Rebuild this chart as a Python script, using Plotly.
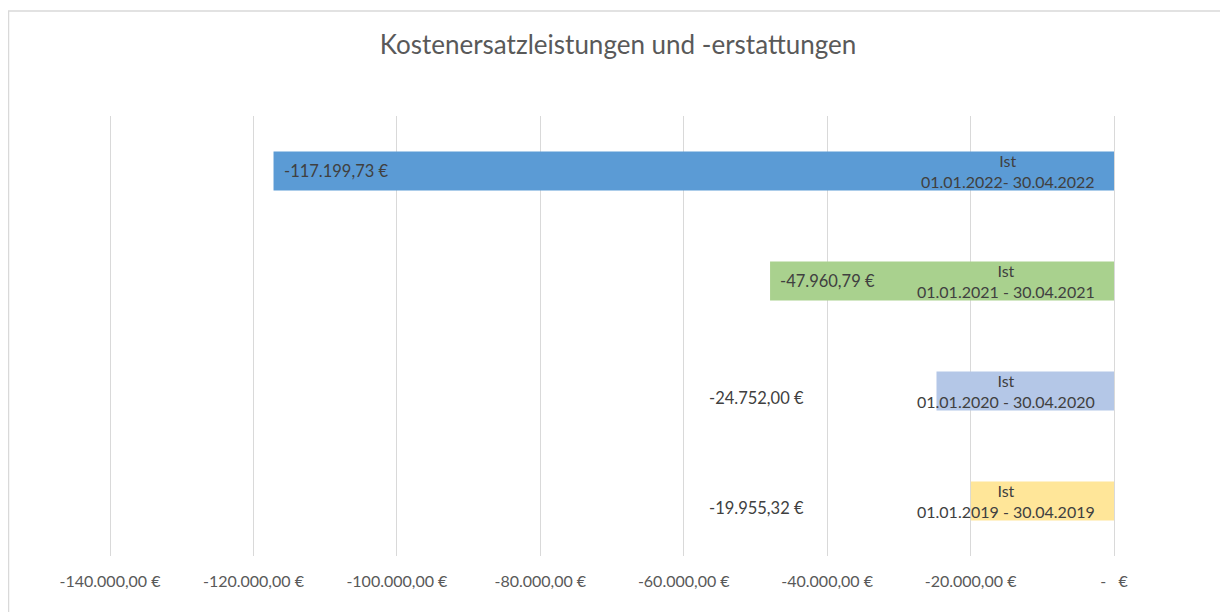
import plotly.graph_objects as go

categories = ["Ist<br>01.01.2022- 30.04.2022",
              "Ist<br>01.01.2021 - 30.04.2021",
              "Ist<br>01.01.2020 - 30.04.2020",
              "Ist<br>01.01.2019 - 30.04.2019"]
values = [-117199.73, -47960.79, -24752.00, -19955.32]
value_labels = ["-117.199,73 €", "-47.960,79 €", "-24.752,00 €", "-19.955,32 €"]
colors = ["#5B9BD5", "#A9D18E", "#B4C7E7", "#FFE699"]
tick_vals = [-140000, -120000, -100000, -80000, -60000, -40000, -20000, 0]
tick_text = ["-140.000,00 €", "-120.000,00 €", "-100.000,00 €", "-80.000,00 €",
             "-60.000,00 €", "-40.000,00 €", "-20.000,00 €", "-   €"]

FONT = "Lato"
ycats = [str(i) for i in range(len(categories))]

# page has an 8px body offset; figure laid out accordingly
W, H = 1220, 604
L, T, B = 100, 108, 56
PW = 1006
R = W - L - PW
PH = H - T - B

fig = go.Figure()
fig.add_trace(go.Bar(
    y=ycats, x=values, orientation="h",
    marker=dict(color=colors, line=dict(width=0)),
    width=0.355, hoverinfo="skip", showlegend=False,
))

annotations = []
for yc, cat in zip(ycats, categories):
    annotations.append(dict(
        x=0, y=yc, xref="x", yref="y", text=cat, showarrow=False,
        xanchor="right", yanchor="middle", xshift=-17, align="center",
        font=dict(family=FONT, size=16, color="#404040"),
    ))
outside_x = -43000  # fixed label column used by the original for short bars
for i, (yc, v, lab) in enumerate(zip(ycats, values, value_labels)):
    if i < 2:
        annotations.append(dict(
            x=v, y=yc, xref="x", yref="y", text=lab, showarrow=False,
            xanchor="left", yanchor="middle", xshift=8,
            font=dict(family=FONT, size=16.5, color="#404040"),
        ))
    else:
        annotations.append(dict(
            x=outside_x, y=yc, xref="x", yref="y", text=lab, showarrow=False,
            xanchor="right", yanchor="middle", yshift=-7,
            font=dict(family=FONT, size=16.5, color="#404040"),
        ))

fig.update_layout(
    width=W, height=H,
    margin=dict(l=L, r=R, t=T, b=B),
    paper_bgcolor="white", plot_bgcolor="white",
    title=dict(text="Kostenersatzleistungen und -erstattungen",
               x=0.5, xanchor="center", y=1 - 37 / H, yanchor="middle",
               font=dict(family=FONT, size=26, color="#595959")),
    xaxis=dict(range=[-140280, 0], tickvals=tick_vals, ticktext=tick_text,
               showgrid=True, gridcolor="#D9D9D9", gridwidth=1.3,
               zeroline=True, zerolinecolor="#D9D9D9", zerolinewidth=1.3,
               showline=False, ticks="outside", ticklen=11, tickcolor="rgba(0,0,0,0)",
               tickfont=dict(family=FONT, size=16, color="#595959"),
               fixedrange=True),
    yaxis=dict(categoryorder="array", categoryarray=ycats, autorange="reversed",
               showticklabels=False, showgrid=False, zeroline=False, showline=False,
               fixedrange=True),
    annotations=annotations,
    shapes=[dict(type="rect", xref="paper", yref="paper",
                 x0=(0.5 - L) / PW, x1=(W - 1 - L) / PW,
                 y0=-0.3, y1=1 + (T - 3) / PH,
                 line=dict(color="#D9D9D9", width=1.5), fillcolor="rgba(0,0,0,0)")],
)

fig.write_html("out.html")
